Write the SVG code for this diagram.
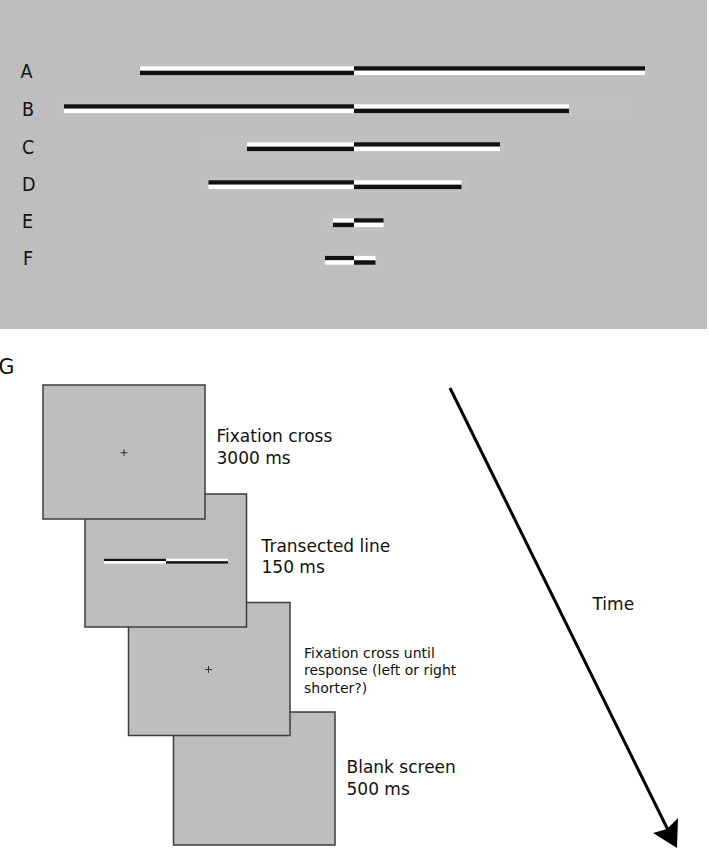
<svg xmlns="http://www.w3.org/2000/svg" width="709" height="850" viewBox="0 0 709 850">
<style>
.lbl{font-family:"DejaVu Sans Condensed","DejaVu Sans",sans-serif;font-stretch:condensed;font-size:19.5px;fill:#111}
.txt{font-family:"DejaVu Sans","Verdana",sans-serif;font-size:17px;fill:#111}
.sm{font-family:"DejaVu Sans","Verdana",sans-serif;font-size:14px;fill:#111}
.w{fill:#ffffff}
.k{fill:#111111}
.faint{fill:#c0c0c0}
.scr{fill:#bebebe;stroke:#3c3c3c;stroke-width:1.5}
.cross{stroke:#333;stroke-width:1;fill:none}
</style>
<rect x="0" y="0" width="709" height="850" fill="#ffffff"/>
<g id="panel-top">
<rect x="0" y="0" width="707" height="329" fill="#bebebe"/>
<rect class="faint" x="57" y="96" width="576" height="21"/>
<rect class="faint" x="202" y="135" width="303" height="23"/>
<rect class="faint" x="202" y="173" width="266" height="20"/>
<rect class="faint" x="322" y="212" width="63" height="22"/>
<rect class="faint" x="318" y="252" width="64" height="18"/>
<rect x="323" y="287" width="64" height="1.5" fill="#c2c2c2"/>
</g>
<g id="row-A">
<text class="lbl" x="20.5" y="77.5">A</text>
<rect class="w" x="140" y="66.3" width="214" height="4.4"/><rect class="k" x="140" y="70.7" width="214" height="4.4"/>
<rect class="k" x="354" y="66.3" width="291" height="4.4"/><rect class="w" x="354" y="70.7" width="291" height="4.4"/>
</g>
<g id="row-B">
<text class="lbl" x="22" y="115.5">B</text>
<rect class="k" x="64" y="104.3" width="290" height="4.4"/><rect class="w" x="64" y="108.7" width="290" height="4.4"/>
<rect class="w" x="354" y="104.3" width="215" height="4.4"/><rect class="k" x="354" y="108.7" width="215" height="4.4"/>
</g>
<g id="row-C">
<text class="lbl" x="22" y="153.5">C</text>
<rect class="w" x="247" y="142.3" width="107" height="4.4"/><rect class="k" x="247" y="146.7" width="107" height="4.4"/>
<rect class="k" x="354" y="142.3" width="146" height="4.4"/><rect class="w" x="354" y="146.7" width="146" height="4.4"/>
</g>
<g id="row-D">
<text class="lbl" x="22" y="190.5">D</text>
<rect class="k" x="208.5" y="180.3" width="145.5" height="4.4"/><rect class="w" x="208.5" y="184.7" width="145.5" height="4.4"/>
<rect class="w" x="354" y="180.3" width="107.5" height="4.4"/><rect class="k" x="354" y="184.7" width="107.5" height="4.4"/>
</g>
<g id="row-E">
<text class="lbl" x="22" y="228">E</text>
<rect class="w" x="333" y="218.3" width="21" height="4.4"/><rect class="k" x="333" y="222.7" width="21" height="4.4"/>
<rect class="k" x="354" y="218.3" width="29.5" height="4.4"/><rect class="w" x="354" y="222.7" width="29.5" height="4.4"/>
</g>
<g id="row-F">
<text class="lbl" x="23" y="264.5">F</text>
<rect class="k" x="325" y="255.9" width="29" height="4.4"/><rect class="w" x="325" y="260.3" width="29" height="4.4"/>
<rect class="w" x="354" y="255.9" width="21.5" height="4.4"/><rect class="k" x="354" y="260.3" width="21.5" height="4.4"/>
</g>
<g id="label-G"><text class="txt" x="-1.5" y="373.5" style="font-size:20.5px">G</text></g>
<g id="screen4">
<rect class="scr" x="173.5" y="712" width="161.5" height="133"/>
<text class="txt" x="346.5" y="773">Blank screen</text>
<text class="txt" x="346.5" y="794.5">500 ms</text>
</g>
<g id="screen3">
<rect class="scr" x="128.5" y="602.5" width="161.5" height="133"/>
<path class="cross" d="M205 669.5h7M208.5 666v7"/>
<text class="sm" x="304" y="657.5">Fixation cross until</text>
<text class="sm" x="304" y="675">response (left or right</text>
<text class="sm" x="304" y="692.5">shorter?)</text>
</g>
<g id="screen2">
<rect class="scr" x="85" y="494" width="161.5" height="133"/>
<rect class="k" x="104" y="558.8" width="62" height="2.4"/><rect class="w" x="104" y="561.2" width="62" height="2.4"/>
<rect class="w" x="166" y="558.8" width="62" height="2.4"/><rect class="k" x="166" y="561.2" width="62" height="2.4"/>
<text class="txt" x="261.5" y="551.5">Transected line</text>
<text class="txt" x="261.5" y="573">150 ms</text>
</g>
<g id="screen1">
<rect class="scr" x="43" y="385" width="162" height="134"/>
<path class="cross" d="M120.5 452.7h7M124 449.2v7"/>
<text class="txt" x="216.5" y="441.5">Fixation cross</text>
<text class="txt" x="216.5" y="463.5">3000 ms</text>
</g>
<g id="connectors">
<path d="M450 388L668 830" stroke="#000" stroke-width="3" fill="none"/>
<polygon points="677,848 653,833 667,829 678,818" fill="#000"/>
<text class="txt" x="592.5" y="610">Time</text>
</g>
</svg>
